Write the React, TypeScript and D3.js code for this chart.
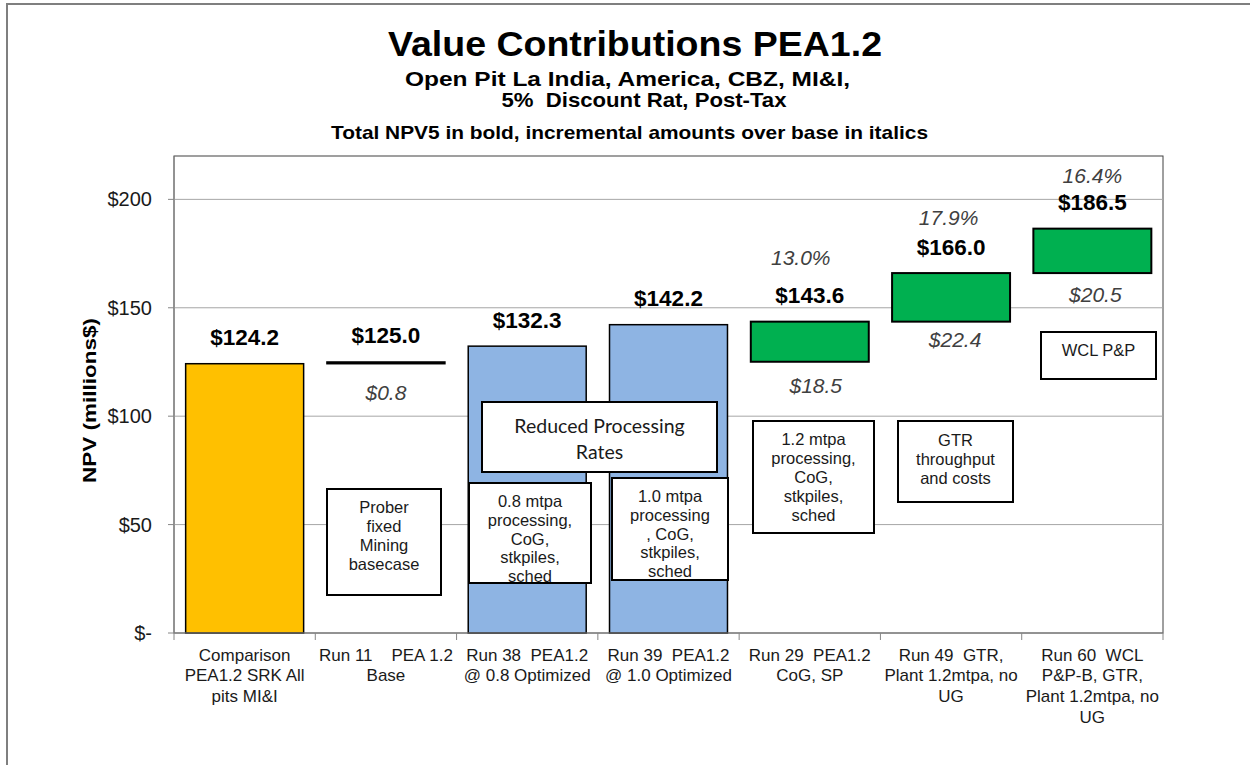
import React from 'react';
import * as d3 from 'd3';

// ---------- DATA ----------
const categories = ['cmp', 'run11', 'run38', 'run39', 'run29', 'run49', 'run60'];
const categoryLines: string[][] = [
  ['Comparison', 'PEA1.2 SRK All', 'pits MI&I'],
  ['Run 11    PEA 1.2', 'Base'],
  ['Run 38  PEA1.2', '@ 0.8 Optimized'],
  ['Run 39  PEA1.2', '@ 1.0 Optimized'],
  ['Run 29  PEA1.2', 'CoG, SP'],
  ['Run 49  GTR,', 'Plant 1.2mtpa, no', 'UG'],
  ['Run 60  WCL', 'P&P-B, GTR,', 'Plant 1.2mtpa, no', 'UG'],
];
const totals = [124.2, 125.0, 132.3, 142.2, 143.6, 166.0, 186.5];
const increments: (number | null)[] = [null, 0.8, null, null, 18.5, 22.4, 20.5];
const percents: (string | null)[] = [null, null, null, null, '13.0%', '17.9%', '16.4%'];
const barKinds = ['comparison', 'base', 'reduced', 'reduced', 'increment', 'increment', 'increment'];
const yTicks = [0, 50, 100, 150, 200];
const yTickLabels = ['$-', '$50', '$100', '$150', '$200'];

const annotations = [
  { lines: ['Prober', 'fixed', 'Mining', 'basecase'], font: 'arial' },
  { lines: ['Reduced Processing', 'Rates'], font: 'calibri' },
  { lines: ['0.8 mtpa', 'processing,', 'CoG,', 'stkpiles,', 'sched'], font: 'arial' },
  { lines: ['1.0 mtpa', 'processing', ', CoG,', 'stkpiles,', 'sched'], font: 'arial' },
  { lines: ['1.2 mtpa', 'processing,', 'CoG,', 'stkpiles,', 'sched'], font: 'arial' },
  { lines: ['GTR', 'throughput', 'and costs'], font: 'arial' },
  { lines: ['WCL P&P'], font: 'arial' },
];

// ---------- LAYOUT / STYLE ----------
const W = 1250;
const H = 765;
const plot = { left: 174, right: 1163, top: 156, bottom: 633 };
const FONT = "'Liberation Sans', Arial, Helvetica, sans-serif";
const colors: Record<string, string> = {
  comparison: '#FFC000',
  base: '#000000',
  reduced: '#8EB4E3',
  increment: '#00B050',
};
const incDy: Record<number, number> = { 1: 36.5, 4: 31.5, 5: 25.5, 6: 29 };
const incDx: Record<number, number> = { 1: 0, 4: 6, 5: 4, 6: 3 };
const pctDy: Record<number, number> = { 4: 38.5, 5: 29.5, 6: 27.5 };
const pctDx: Record<number, number> = { 4: -9, 5: -2.5, 6: 0 };
// annotation box geometry (px)
const annBoxes = [
  { x: 327, y: 489, w: 114, h: 106, first: 513, lh: 19 },
  { x: 482, y: 402, w: 235, h: 70, first: 432.5, lh: 26.5 },
  { x: 469, y: 483, w: 122, h: 100, first: 506.7, lh: 18.9 },
  { x: 612, y: 478, w: 116, h: 102, first: 501.7, lh: 18.9 },
  { x: 753, y: 421, w: 121, h: 112, first: 445.3, lh: 18.9 },
  { x: 898, y: 421, w: 115, h: 81, first: 446, lh: 19.2 },
  { x: 1041, y: 332, w: 115, h: 47, first: 356, lh: 19 },
];

export default function App() {
  const x = d3
    .scaleBand<string>()
    .domain(categories)
    .range([plot.left, plot.right])
    .paddingInner(0.165)
    .paddingOuter(0.0825);
  const y = d3.scaleLinear().domain([0, 220]).range([plot.bottom, plot.top]);
  const step = x.step();
  const bw = x.bandwidth();
  const fmt = d3.format('.1f');

  const bars = categories.map((c, i) => {
    const kind = barKinds[i];
    const inc = increments[i];
    const base = kind === 'comparison' || kind === 'reduced' ? 0 : totals[i] - (inc ?? 0);
    return { c, i, kind, base, top: totals[i] };
  });

  const boundaries = d3.range(categories.length + 1).map((k) => plot.left + k * step);

  return (
    <svg
      width={W}
      height={H}
      style={{ position: 'absolute', left: 0, top: 0, background: '#fff' }}
      fontFamily={FONT}
    >
      <rect x={0} y={0} width={W} height={H} fill="#fff" />
      {/* outer frame */}
      <rect x={7} y={4} width={W + 20} height={H + 20} fill="none" stroke="#7F7F7F" strokeWidth={2} />

      {/* titles */}
      <text x={635} y={56} textAnchor="middle" fontSize={35} fontWeight="bold" textLength={494} lengthAdjust="spacingAndGlyphs">
        Value Contributions PEA1.2
      </text>
      <text x={627.5} y={86} textAnchor="middle" fontSize={21} fontWeight="bold" textLength={445} lengthAdjust="spacingAndGlyphs">
        Open Pit La India, America, CBZ, MI&amp;I,
      </text>
      <text x={644} y={107} textAnchor="middle" fontSize={21} fontWeight="bold" textLength={285} lengthAdjust="spacingAndGlyphs" style={{ whiteSpace: 'pre' }}>
        {'5%  Discount Rat, Post-Tax'}
      </text>
      <text x={629.5} y={139} textAnchor="middle" fontSize={19} fontWeight="bold" textLength={597} lengthAdjust="spacingAndGlyphs">
        Total NPV5 in bold, incremental amounts over base in italics
      </text>

      {/* plot area border */}
      <rect
        x={plot.left}
        y={plot.top}
        width={plot.right - plot.left}
        height={plot.bottom - plot.top}
        fill="#fff"
        stroke="#404040"
        strokeWidth={1}
      />
      {/* gridlines */}
      {yTicks.filter((t) => t > 0).map((t) => (
        <line key={t} x1={plot.left} x2={plot.right} y1={y(t)} y2={y(t)} stroke="#A6A6A6" strokeWidth={1} />
      ))}

      {/* bars */}
      {bars.map((b) => (
        <rect
          key={b.c}
          x={x(b.c)!}
          y={y(b.top)}
          width={bw}
          height={Math.max(0.5, y(b.base) - y(b.top))}
          fill={colors[b.kind]}
          stroke="#000"
          strokeWidth={b.kind === 'increment' ? 2 : 1.5}
        />
      ))}

      {/* axes */}
      <line x1={plot.left} x2={plot.left} y1={plot.top} y2={plot.bottom} stroke="#868686" strokeWidth={1} />
      <line x1={plot.left} x2={plot.right} y1={plot.bottom} y2={plot.bottom} stroke="#868686" strokeWidth={1} />
      {yTicks.map((t, k) => (
        <g key={t}>
          <line x1={plot.left - 6} x2={plot.left} y1={y(t)} y2={y(t)} stroke="#868686" strokeWidth={1} />
          <text x={152} y={y(t) + 7} textAnchor="end" fontSize={20} fill="#1a1a1a">
            {yTickLabels[k]}
          </text>
        </g>
      ))}
      {boundaries.map((bx, k) => (
        <line key={k} x1={bx} x2={bx} y1={plot.bottom} y2={plot.bottom + 7} stroke="#868686" strokeWidth={1} />
      ))}

      {/* y-axis title */}
      <text
        transform={`translate(96,400.5) rotate(-90)`}
        textAnchor="middle"
        fontSize={19}
        fontWeight="bold"
        textLength={165}
        lengthAdjust="spacingAndGlyphs"
      >
        NPV (millions$)
      </text>

      {/* category labels */}
      {categories.map((c, i) => (
        <text key={c} textAnchor="middle" fontSize={17} fill="#1a1a1a" style={{ whiteSpace: 'pre' }}>
          {categoryLines[i].map((ln, j) => (
            <tspan key={j} x={x(c)! + bw / 2} y={660.5 + j * 20.7}>
              {ln}
            </tspan>
          ))}
        </text>
      ))}

      {/* total labels */}
      {bars.map((b) => (
        <text
          key={'t' + b.c}
          x={x(b.c)! + bw / 2}
          y={y(b.top) - 18.5}
          textAnchor="middle"
          fontSize={22.5}
          fontWeight="bold"
          fill="#000"
        >
          {'$' + fmt(totals[b.i])}
        </text>
      ))}

      {/* increment labels */}
      {bars.map((b) =>
        increments[b.i] == null ? null : (
          <text
            key={'i' + b.c}
            x={x(b.c)! + bw / 2 + (incDx[b.i] ?? 0)}
            y={y(b.base) + (incDy[b.i] ?? 30)}
            textAnchor="middle"
            fontSize={21}
            fontStyle="italic"
            fill="#404040"
          >
            {'$' + fmt(increments[b.i] as number)}
          </text>
        )
      )}

      {/* percent labels */}
      {bars.map((b) =>
        percents[b.i] == null ? null : (
          <text
            key={'p' + b.c}
            x={x(b.c)! + bw / 2 + (pctDx[b.i] ?? 0)}
            y={y(b.top) - 18.5 - (pctDy[b.i] ?? 30)}
            textAnchor="middle"
            fontSize={21}
            fontStyle="italic"
            fill="#404040"
          >
            {percents[b.i]}
          </text>
        )
      )}

      {/* annotation boxes */}
      {annotations.map((a, k) => {
        const bx = annBoxes[k];
        const isCal = a.font === 'calibri';
        return (
          <g key={'a' + k}>
            <rect x={bx.x} y={bx.y} width={bx.w} height={bx.h} fill="#fff" stroke="#000" strokeWidth={2} />
            <text
              textAnchor="middle"
              fontSize={isCal ? 19.5 : 16.5}
              fontFamily={isCal ? "Lato, 'Open Sans', sans-serif" : FONT}
              fill="#1a1a1a"
            >
              {a.lines.map((ln, j) => (
                <tspan key={j} x={bx.x + bx.w / 2} y={bx.first + j * bx.lh}>
                  {ln}
                </tspan>
              ))}
            </text>
          </g>
        );
      })}
    </svg>
  );
}
